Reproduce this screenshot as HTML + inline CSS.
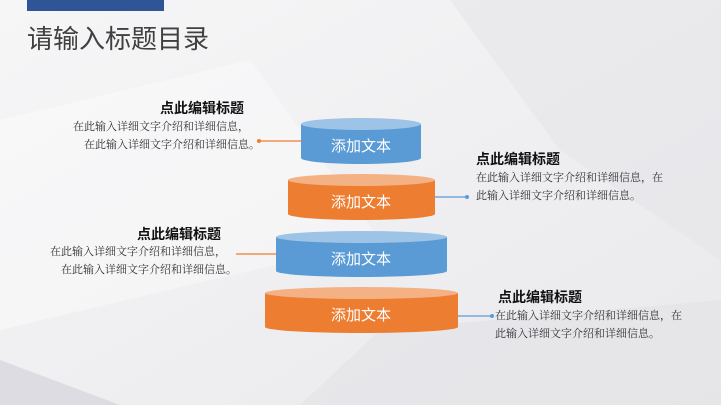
<!DOCTYPE html>
<html><head><meta charset="utf-8"><style>
body{margin:0;width:721px;height:405px;overflow:hidden;background:#f2f2f4;font-family:"Liberation Sans","Noto Sans CJK SC",sans-serif;position:relative}
.t{position:absolute;white-space:nowrap;color:#333;font-size:11px;line-height:18px;font-family:"Liberation Serif","Noto Serif CJK SC",serif}
.h{font-weight:bold;font-size:14px;line-height:18px;color:#111;font-family:"Liberation Sans","Noto Sans CJK SC",sans-serif}
</style></head><body>
<svg width="721" height="405" style="position:absolute;left:0;top:0">
<defs><linearGradient id="bg" x1="0" y1="0" x2="1" y2="1"><stop offset="0" stop-color="#f6f6f7"/><stop offset="1" stop-color="#e9e9ec"/></linearGradient></defs>
<rect width="721" height="405" fill="url(#bg)"/>
<polygon points="0,120 250,60 380,240 0,330" fill="#fff" opacity="0.35"/>
<polygon points="450,0 721,0 721,260 560,150" fill="#e4e4e8" opacity="0.5"/>
<polygon points="380,330 721,300 721,405 300,405" fill="#e2e2e6" opacity="0.6"/>
<polygon points="0,360 120,405 0,405" fill="#dcdce2"/>
<rect x="27" y="0" width="137" height="11" fill="#2f5597"/>
<g stroke-width="1.3">
<line x1="259" y1="141" x2="304" y2="141" stroke="#ed7d31"/><circle cx="259" cy="141" r="2" fill="#ed7d31"/><circle cx="304" cy="141" r="2" fill="#ed7d31"/>
<line x1="421" y1="197" x2="467" y2="197" stroke="#5b9bd5"/><circle cx="421" cy="197" r="2" fill="#5b9bd5"/><circle cx="467" cy="197" r="2" fill="#5b9bd5"/>
<line x1="236" y1="254" x2="281" y2="254" stroke="#ed7d31"/><circle cx="281" cy="254" r="2" fill="#ed7d31"/>
<line x1="447" y1="316" x2="492" y2="316" stroke="#5b9bd5"/><circle cx="447" cy="316" r="2" fill="#5b9bd5"/><circle cx="492" cy="316" r="2" fill="#5b9bd5"/>
</g>
<g>
<path d="M301,124 L301,158 A60,6 0 0 0 421,158 L421,124 Z" fill="#5b9bd5"/><ellipse cx="361" cy="124" rx="60" ry="6" fill="#9dc3e6"/>
<path d="M288,180 L288,214 A73.5,6 0 0 0 435,214 L435,180 Z" fill="#ed7d31"/><ellipse cx="361.5" cy="180" rx="73.5" ry="6" fill="#f4b183"/>
<path d="M276,237 L276,271 A85.5,6 0 0 0 447,271 L447,237 Z" fill="#5b9bd5"/><ellipse cx="361.5" cy="237" rx="85.5" ry="6" fill="#9dc3e6"/>
<path d="M265,293 L265,327 A96.5,6 0 0 0 458,327 L458,293 Z" fill="#ed7d31"/><ellipse cx="361.5" cy="293" rx="96.5" ry="6" fill="#f4b183"/>
</g>
<g fill="#fff" font-size="15" text-anchor="middle" font-family="Liberation Sans,Noto Sans CJK SC,sans-serif">
<text x="361" y="151">添加文本</text><text x="361" y="207">添加文本</text><text x="361" y="264">添加文本</text><text x="361" y="320">添加文本</text>
</g>
</svg>
<div class="t" style="left:27px;top:22px;font-size:26px;line-height:34px;color:#404040;font-family:'Liberation Sans','Noto Sans CJK SC',sans-serif">请输入标题目录</div>
<div class="t h" style="left:160px;top:99px">点此编辑标题</div>
<div class="t" style="left:73px;top:118px">在此输入详细文字介绍和详细信息，</div>
<div class="t" style="left:84px;top:136px">在此输入详细文字介绍和详细信息。</div>
<div class="t h" style="left:476px;top:150px">点此编辑标题</div>
<div class="t" style="left:476px;top:169px">在此输入详细文字介绍和详细信息，在<br>此输入详细文字介绍和详细信息。</div>
<div class="t h" style="left:137px;top:225px">点此编辑标题</div>
<div class="t" style="left:50px;top:243px">在此输入详细文字介绍和详细信息，</div>
<div class="t" style="left:61px;top:261px">在此输入详细文字介绍和详细信息。</div>
<div class="t h" style="left:498px;top:288px">点此编辑标题</div>
<div class="t" style="left:495px;top:307px">在此输入详细文字介绍和详细信息，在<br>此输入详细文字介绍和详细信息。</div>
</body></html>
